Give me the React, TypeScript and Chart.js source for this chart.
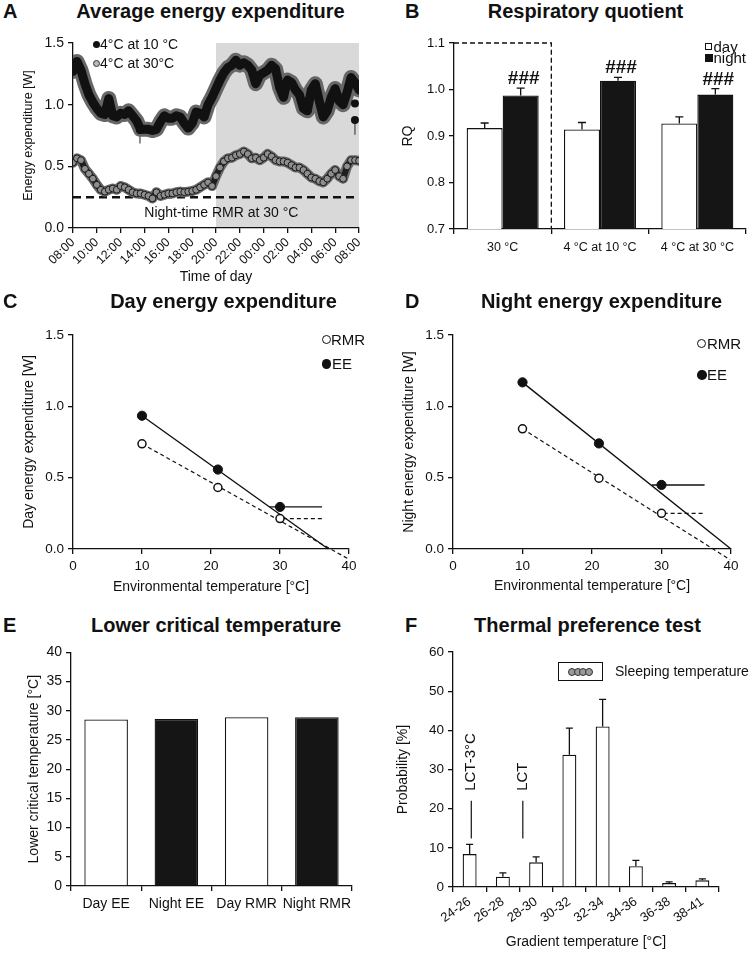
import React, { useEffect, useRef } from 'react';
import { Chart, registerables } from 'chart.js';

Chart.register(...registerables);

const FONT = '"Liberation Sans", Arial, Helvetica, sans-serif';
const INK = '#111111';

// ---------------- Panel A: average energy expenditure ----------------
const timeTickLabels = ['08:00', '10:00', '12:00', '14:00', '16:00', '18:00', '20:00', '22:00', '00:00', '02:00', '04:00', '06:00', '08:00'];
const sampleStepHours = 1 / 3; // 20-min samples, hours after 08:00
const ee4at10 = [
  1.27, 1.35, 1.28, 1.17, 1.08, 1.02, 0.97, 0.93, 0.92, 1.05,
  0.91, 0.90, 0.93, 0.92, 0.95, 0.91, 0.87, 0.80, 0.80, 0.80,
  0.79, 0.80, 0.86, 0.91, 0.89, 0.89, 0.91, 0.90, 0.85, 0.81,
  0.85, 0.94, 0.93, 0.90, 1.00, 1.06, 1.13, 1.20, 1.26, 1.30,
  1.32, 1.36, 1.32, 1.34, 1.32, 1.28, 1.17, 1.24, 1.26, 1.28,
  1.32, 1.29, 1.14, 1.06, 1.20, 1.18, 1.12, 1.08, 0.97, 0.95,
  1.12, 1.17, 1.03, 0.90, 0.95, 1.06, 1.13, 1.03, 1.00, 1.10,
  1.22, 1.18, 1.12,
];
const ee4at30 = [
  0.53, 0.565, 0.55, 0.48, 0.44, 0.40, 0.35, 0.31, 0.295, 0.31,
  0.32, 0.31, 0.34, 0.33, 0.31, 0.29, 0.28, 0.28, 0.27, 0.26,
  0.24, 0.29, 0.26, 0.27, 0.28, 0.28, 0.29, 0.295, 0.29, 0.295,
  0.30, 0.31, 0.33, 0.35, 0.37, 0.34, 0.42, 0.49, 0.54, 0.565,
  0.57, 0.59, 0.60, 0.62, 0.60, 0.565, 0.57, 0.55, 0.57, 0.60,
  0.58, 0.55, 0.54, 0.54, 0.53, 0.51, 0.49, 0.49, 0.47, 0.44,
  0.41, 0.40, 0.38, 0.37, 0.40, 0.44, 0.47, 0.42, 0.40, 0.50,
  0.55, 0.55, 0.545,
];
const outlierHours = [5.62, 23.66, 23.66];
const outlierValues = [0.795, 1.01, 0.876];
const outlierLowErr = [0.11, 0, 0.12];
const nightStartHour = 12;
const nightEndHour = 24;
const nightRmr30 = 0.25;
const rmrLabel = 'Night-time RMR at 30 °C';

// ---------------- Panel B: respiratory quotient ----------------
const rqGroups = ['30 °C', '4 °C at 10 °C', '4 °C at 30 °C'];
const rqDay = [0.917, 0.914, 0.927];
const rqDaySem = [0.011, 0.015, 0.014];
const rqNight = [0.987, 1.019, 0.989];
const rqNightSem = [0.016, 0.007, 0.013];
const rqNightSig = ['###', '###', '###'];

// ---------------- Panels C/D: energy expenditure vs temperature ----------------
const envTemps = [10, 21, 30];
const dayEE = [0.934, 0.557, 0.295];
const dayRMR = [0.737, 0.431, 0.213];
const dayEEFitT = [10, 37];
const dayEEFitW = [0.934, 0];
const dayRMRFitT = [10, 39.85];
const dayRMRFitW = [0.737, -0.068];
const dayEEPlateauT = [28.5, 36.1];
const dayRMRPlateauT = [29.4, 36.1];

const nightEE = [1.168, 0.74, 0.449];
const nightRMR = [0.842, 0.496, 0.25];
const nightEEFitT = [10, 40];
const nightEEFitW = [1.168, 0];
const nightRMRFitT = [10, 39.86];
const nightRMRFitW = [0.842, -0.075];
const nightEEPlateauT = [28.6, 36.2];
const nightRMRPlateauT = [29.3, 36.2];

// ---------------- Panel E: lower critical temperature ----------------
const lctCategories = ['Day EE', 'Night EE', 'Day RMR', 'Night RMR'];
const lctValues = [28.5, 28.6, 28.9, 28.9];
const lctColors = ['#ffffff', '#151515', '#ffffff', '#151515'];

// ---------------- Panel F: thermal preference ----------------
const gradientBins = ['24-26', '26-28', '28-30', '30-32', '32-34', '34-36', '36-38', '38-41'];
const sleepProb = [8.4, 2.6, 6.3, 33.8, 41.0, 5.3, 1.0, 1.7];
const sleepProbSem = [2.5, 1.0, 1.4, 6.8, 6.9, 1.5, 0.3, 0.4];
const lctMarkerLabels = ['LCT-3°C', 'LCT'];
const lctMarkerBinPos = [0.05, 1.6];

// ---------------- helpers ----------------
const font = (size: number, weight: string = 'normal') => ({ family: FONT, size, weight });
const GRID = { display: true, drawOnChartArea: false, drawTicks: true, tickLength: 5, tickColor: INK, tickWidth: 1.3, color: INK, lineWidth: 1.3 };
const BORDER = { display: true, color: INK, width: 1.3 };

function yAxis(o: any) {
  const ts = o.titleSize ?? 14;
  return {
    type: 'linear',
    position: 'left',
    min: o.min,
    max: o.max,
    afterFit: (s: any) => { s.width = o.width; },
    ticks: {
      stepSize: o.step,
      color: INK,
      font: font(o.tickSize ?? 13.5),
      padding: 4,
      callback: (v: any) => (o.decimals ? Number(v).toFixed(o.decimals) : String(Math.round(Number(v)))),
    },
    grid: GRID,
    border: BORDER,
    title: o.title
      ? { display: true, text: o.title, color: INK, font: font(ts), padding: { top: o.titleX - ts * 0.6, bottom: 0 } }
      : { display: false },
  };
}

function baseOptions(pad: { top: number; right: number }, scales: any) {
  return {
    responsive: false,
    animation: false,
    devicePixelRatio: 1,
    events: [],
    layout: { padding: { top: pad.top, right: pad.right, bottom: 0, left: 0 } },
    plugins: { legend: { display: false }, tooltip: { enabled: false } },
    scales,
  };
}

const errorBars = (capHalf: number) => ({
  id: 'errorBars',
  afterDatasetsDraw(chart: any) {
    const ctx = chart.ctx;
    const ys = chart.scales.y;
    chart.data.datasets.forEach((ds: any, di: number) => {
      if (!ds.errors) return;
      const meta = chart.getDatasetMeta(di);
      meta.data.forEach((el: any, i: number) => {
        const v = ds.data[i];
        const e = ds.errors[i];
        const y0 = ys.getPixelForValue(v);
        const y1 = ys.getPixelForValue(v + e);
        ctx.save();
        ctx.strokeStyle = INK;
        ctx.lineWidth = 1.3;
        ctx.beginPath();
        ctx.moveTo(el.x, y0);
        ctx.lineTo(el.x, y1);
        ctx.moveTo(el.x - capHalf, y1);
        ctx.lineTo(el.x + capHalf, y1);
        ctx.stroke();
        ctx.restore();
      });
    });
  },
});

// ---------------- chart builders ----------------
function makeA() {
  const black = ee4at10.map((y, i) => ({ x: i * sampleStepHours, y }));
  const gray = ee4at30.map((y, i) => ({ x: i * sampleStepHours, y }));
  const outliers = outlierHours.map((x, i) => ({ x, y: outlierValues[i] }));
  const rmr = [{ x: 0, y: nightRmr30 }, { x: 24, y: nightRmr30 }];
  const plugin = {
    id: 'panelA',
    beforeDraw(chart: any) {
      const { ctx, chartArea } = chart;
      const xs = chart.scales.x;
      const x0 = xs.getPixelForValue(nightStartHour);
      const x1 = xs.getPixelForValue(nightEndHour);
      ctx.save();
      ctx.fillStyle = '#d9d9d9';
      ctx.fillRect(x0, chartArea.top, x1 - x0, chartArea.bottom - chartArea.top);
      ctx.restore();
    },
    beforeDatasetsDraw(chart: any) {
      const ctx = chart.ctx;
      const xs = chart.scales.x;
      const ys = chart.scales.y;
      chart.data.datasets.forEach((ds: any) => {
        if (!ds.lowErr) return;
        ds.data.forEach((p: any, i: number) => {
          if (!ds.lowErr[i]) return;
          const x = xs.getPixelForValue(p.x);
          ctx.save();
          ctx.strokeStyle = '#444';
          ctx.lineWidth = 1.2;
          ctx.beginPath();
          ctx.moveTo(x, ys.getPixelForValue(p.y));
          ctx.lineTo(x, ys.getPixelForValue(p.y - ds.lowErr[i]));
          ctx.stroke();
          ctx.restore();
        });
      });
    },
    afterDatasetsDraw(chart: any) {
      const ctx = chart.ctx;
      const xs = chart.scales.x;
      const ys = chart.scales.y;
      ctx.save();
      ctx.font = `14px ${FONT}`;
      ctx.fillStyle = INK;
      ctx.textAlign = 'center';
      ctx.textBaseline = 'middle';
      ctx.fillText(rmrLabel, xs.getPixelForValue(12.45), ys.getPixelForValue(0.12));
      ctx.restore();
    },
  };
  const line = (data: any, color: string, width: number, order: number, extra: any = {}) => ({
    data, showLine: true, borderColor: color, borderWidth: width, pointRadius: 0, order,
    borderJoinStyle: 'round', borderCapStyle: 'round', ...extra,
  });
  return {
    type: 'scatter',
    data: {
      datasets: [
        { data: outliers, lowErr: outlierLowErr, showLine: false, pointRadius: 4, pointBackgroundColor: INK, pointBorderColor: INK, pointBorderWidth: 0, order: 0 },
        line(black, INK, 9, 1),
        line(black, '#676767', 15, 2),
        line(gray, '#1e1e1e', 6, 3, { pointRadius: 3.4, pointBackgroundColor: '#8e8e8e', pointBorderColor: '#1a1a1a', pointBorderWidth: 1 }),
        line(gray, '#6a6a6a', 10, 4),
        { data: rmr, showLine: true, borderColor: INK, borderWidth: 2.5, borderDash: [8, 5], pointRadius: 0, order: 5 },
      ],
    },
    options: baseOptions({ top: 15, right: 16 }, {
      x: {
        type: 'linear', position: 'bottom', min: 0, max: 24,
        afterFit: (s: any) => { s.height = 64; },
        ticks: {
          stepSize: 2, autoSkip: false, minRotation: 45, maxRotation: 45, color: INK, font: font(12.5), padding: 2,
          callback: (v: any) => timeTickLabels[Math.round(Number(v) / 2)],
        },
        grid: GRID, border: BORDER,
        title: { display: true, text: 'Time of day', color: INK, font: font(14), padding: { top: 0, bottom: 6.6 } },
      },
      y: yAxis({ min: 0, max: 1.5, step: 0.5, width: 73, tickSize: 14, decimals: 1, title: 'Energy expenditure [W]', titleSize: 12.5, titleX: 29 }),
    }),
    plugins: [plugin],
  };
}

function makeB() {
  const sigPlugin = {
    id: 'sig',
    afterDatasetsDraw(chart: any) {
      const ctx = chart.ctx;
      const ys = chart.scales.y;
      chart.data.datasets.forEach((ds: any, di: number) => {
        if (!ds.sig) return;
        const meta = chart.getDatasetMeta(di);
        meta.data.forEach((el: any, i: number) => {
          ctx.save();
          ctx.font = `bold 19px ${FONT}`;
          ctx.fillStyle = INK;
          ctx.textAlign = 'center';
          ctx.textBaseline = 'alphabetic';
          ctx.fillText(ds.sig[i], el.x + 3, ys.getPixelForValue(ds.data[i] + ds.errors[i]) - 4);
          ctx.restore();
        });
      });
    },
  };
  const boxPlugin = {
    id: 'controlBox',
    beforeDatasetsDraw(chart: any) {
      const { ctx, chartArea } = chart;
      const xs = chart.scales.x;
      const ys = chart.scales.y;
      const xb = (xs.getPixelForValue(0) + xs.getPixelForValue(1)) / 2;
      const yt = ys.getPixelForValue(ys.max);
      ctx.save();
      ctx.strokeStyle = INK;
      ctx.lineWidth = 1.3;
      ctx.setLineDash([5, 3]);
      ctx.beginPath();
      ctx.moveTo(chartArea.left, yt);
      ctx.lineTo(xb, yt);
      ctx.lineTo(xb, chartArea.bottom);
      ctx.stroke();
      ctx.restore();
    },
  };
  return {
    type: 'bar',
    data: {
      labels: rqGroups,
      datasets: [
        { label: 'day', data: rqDay, errors: rqDaySem, backgroundColor: '#ffffff', borderColor: INK, borderWidth: 1.3, barPercentage: 1, categoryPercentage: 0.74 },
        { label: 'night', data: rqNight, errors: rqNightSem, sig: rqNightSig, backgroundColor: '#151515', borderColor: INK, borderWidth: 1.3, barPercentage: 1, categoryPercentage: 0.74 },
      ],
    },
    options: baseOptions({ top: 15, right: 5 }, {
      x: {
        type: 'category', offset: true,
        afterFit: (s: any) => { s.height = 63; },
        ticks: { color: INK, font: font(12.5), padding: 6, autoSkip: false, maxRotation: 0 },
        grid: { ...GRID, offset: true },
        border: BORDER,
      },
      y: yAxis({ min: 0.7, max: 1.1, step: 0.1, width: 79, tickSize: 13, decimals: 1, title: 'RQ', titleSize: 14, titleX: 33 }),
    }),
    plugins: [boxPlugin, errorBars(4), sigPlugin],
  };
}

function makeTemp(p: any) {
  const pts = (ys: number[]) => envTemps.map((x, i) => ({ x, y: ys[i] }));
  const seg = (xs: number[], ys: number[]) => xs.map((x, i) => ({ x, y: ys[i] }));
  const ln = (data: any, dash: number[] | undefined, order: number) => ({
    data, showLine: true, borderColor: INK, borderWidth: dash ? 1.2 : 1.4, borderDash: dash || [], pointRadius: 0, clip: false, order,
  });
  return {
    type: 'scatter',
    data: {
      datasets: [
        { data: pts(p.ee), pointRadius: 4.6, pointBackgroundColor: INK, pointBorderColor: INK, pointBorderWidth: 1, order: 0 },
        { data: pts(p.rmr), pointRadius: 4, pointBackgroundColor: '#ffffff', pointBorderColor: INK, pointBorderWidth: 1.5, order: 1 },
        ln(seg(p.eeFitT, p.eeFitW), undefined, 2),
        ln(seg(p.rmrFitT, p.rmrFitW), [4, 3], 3),
        ln(seg(p.eePlatT, [p.ee[2], p.ee[2]]), undefined, 4),
        ln(seg(p.rmrPlatT, [p.rmr[2], p.rmr[2]]), [4, 3], 5),
      ],
    },
    options: baseOptions({ top: 17, right: p.padRight }, {
      x: {
        type: 'linear', position: 'bottom', min: 0, max: 40,
        afterFit: (s: any) => { s.height = 54; },
        ticks: { stepSize: 10, color: INK, font: font(13.5), padding: 4, maxRotation: 0 },
        grid: GRID, border: BORDER,
        title: { display: true, text: 'Environmental temperature [°C]', color: INK, font: font(14), padding: { top: 0, bottom: p.xTitlePad } },
      },
      y: yAxis({ min: 0, max: 1.5, step: 0.5, width: p.yWidth, tickSize: 13.5, decimals: 1, title: p.yTitle, titleSize: 14, titleX: p.titleX }),
    }),
  };
}

function makeC() {
  return makeTemp({
    ee: dayEE, rmr: dayRMR, eeFitT: dayEEFitT, eeFitW: dayEEFitW, rmrFitT: dayRMRFitT, rmrFitW: dayRMRFitW,
    eePlatT: dayEEPlateauT, rmrPlatT: dayRMRPlateauT, yTitle: 'Day energy expenditure [W]', yWidth: 73, titleX: 29, padRight: 26, xTitlePad: 7.6,
  });
}

function makeD() {
  return makeTemp({
    ee: nightEE, rmr: nightRMR, eeFitT: nightEEFitT, eeFitW: nightEEFitW, rmrFitT: nightRMRFitT, rmrFitW: nightRMRFitW,
    eePlatT: nightEEPlateauT, rmrPlatT: nightRMRPlateauT, yTitle: 'Night energy expenditure [W]', yWidth: 78, titleX: 34, padRight: 20, xTitlePad: 8.6,
  });
}

function makeE() {
  return {
    type: 'bar',
    data: {
      labels: lctCategories,
      datasets: [
        { data: lctValues, backgroundColor: lctColors, borderColor: INK, borderWidth: 1.3, barPercentage: 0.62, categoryPercentage: 1 },
      ],
    },
    options: baseOptions({ top: 10, right: 23 }, {
      x: {
        type: 'category', offset: true,
        afterFit: (s: any) => { s.height = 54; },
        ticks: { color: INK, font: font(14), padding: 5, autoSkip: false, maxRotation: 0 },
        grid: { ...GRID, offset: true },
        border: BORDER,
      },
      y: yAxis({ min: 0, max: 40, step: 5, width: 71, tickSize: 14, title: 'Lower critical temperature [°C]', titleSize: 14, titleX: 34 }),
    }),
  };
}

function makeF() {
  const lctPlugin = {
    id: 'lct',
    afterDatasetsDraw(chart: any) {
      const ctx = chart.ctx;
      const xs = chart.scales.x;
      const ys = chart.scales.y;
      lctMarkerLabels.forEach((lab, i) => {
        const x = xs.getPixelForValue(lctMarkerBinPos[i]);
        const yLo = ys.getPixelForValue(12.4);
        const yHi = ys.getPixelForValue(22);
        ctx.save();
        ctx.strokeStyle = INK;
        ctx.lineWidth = 1.2;
        ctx.beginPath();
        ctx.moveTo(x, yLo);
        ctx.lineTo(x, yHi);
        ctx.stroke();
        ctx.translate(x, yHi - 10);
        ctx.rotate(-Math.PI / 2);
        ctx.font = `15px ${FONT}`;
        ctx.fillStyle = INK;
        ctx.textAlign = 'left';
        ctx.textBaseline = 'middle';
        ctx.fillText(lab, 0, 0);
        ctx.restore();
      });
    },
  };
  return {
    type: 'bar',
    data: {
      labels: gradientBins,
      datasets: [
        { data: sleepProb, errors: sleepProbSem, backgroundColor: '#ffffff', borderColor: INK, borderWidth: 1.3, barPercentage: 0.42, categoryPercentage: 1 },
      ],
    },
    options: baseOptions({ top: 11, right: 32 }, {
      x: {
        type: 'category', offset: true,
        afterFit: (s: any) => { s.height = 69; },
        ticks: { color: INK, font: font(13), padding: 2, autoSkip: false, minRotation: 35, maxRotation: 35 },
        grid: { ...GRID, offset: true },
        border: BORDER,
        title: { display: true, text: 'Gradient temperature [°C]', color: INK, font: font(14), padding: { top: 0, bottom: 5.6 } },
      },
      y: yAxis({ min: 0, max: 60, step: 10, width: 78, tickSize: 13.5, title: 'Probability [%]', titleSize: 14, titleX: 28 }),
    }),
    plugins: [errorBars(3.5), lctPlugin],
  };
}

// ---------------- React components ----------------
type Box = { left: number; top: number; width: number; height: number };

function ChartCanvas({ box, make }: { box: Box; make: () => any }) {
  const ref = useRef<HTMLCanvasElement | null>(null);
  useEffect(() => {
    const chart = new Chart(ref.current as HTMLCanvasElement, make());
    return () => chart.destroy();
  }, []);
  return (
    <canvas
      ref={ref}
      width={box.width}
      height={box.height}
      style={{ position: 'absolute', left: box.left, top: box.top, width: box.width, height: box.height }}
    />
  );
}

const markerStyles: Record<string, any> = {
  dotBlack: { size: 7, background: INK, borderRadius: '50%' },
  dotGray: { size: 7, background: '#b8b8b8', border: '1px solid #333', borderRadius: '50%' },
  open: { size: 9, background: '#fff', border: `1.5px solid ${INK}`, borderRadius: '50%' },
  filled: { size: 9.5, background: INK, borderRadius: '50%' },
  sqOpen: { size: 7.5, background: '#fff', border: `1px solid ${INK}` },
  sqFilled: { size: 8, background: INK },
};

function LegendItem({ cx, cy, marker, text, textLeft, size }: any) {
  const m = markerStyles[marker];
  const { size: ms, ...rest } = m;
  return (
    <>
      <span style={{ position: 'absolute', left: cx - ms / 2, top: cy - ms / 2, width: ms, height: ms, boxSizing: 'border-box', ...rest }} />
      <span style={{ position: 'absolute', left: textLeft, top: cy - size * 0.59, lineHeight: `${size * 1.2}px`, fontFamily: FONT, fontSize: size, color: INK, whiteSpace: 'nowrap' }}>
        {text}
      </span>
    </>
  );
}

const panelTitles = [
  { letter: 'A', text: 'Average energy expenditure', cx: 210.5, baseline: 18.3, lx: 3 },
  { letter: 'B', text: 'Respiratory quotient', cx: 585.5, baseline: 18.3, lx: 405 },
  { letter: 'C', text: 'Day energy expenditure', cx: 223.5, baseline: 308.3, lx: 3 },
  { letter: 'D', text: 'Night energy expenditure', cx: 601.5, baseline: 308.3, lx: 405 },
  { letter: 'E', text: 'Lower critical temperature', cx: 216, baseline: 632, lx: 3 },
  { letter: 'F', text: 'Thermal preference test', cx: 587.5, baseline: 632, lx: 405 },
];

export default function App() {
  const titleStyle = (top: number): any => ({
    position: 'absolute', top, height: 20, lineHeight: '20px', fontFamily: FONT, fontSize: 20, fontWeight: 'bold', color: INK, whiteSpace: 'nowrap',
  });
  return (
    <div style={{ position: 'absolute', left: 0, top: 0, width: 751, height: 956, overflow: 'hidden', background: '#fff' }}>
      <ChartCanvas box={{ left: 0, top: 28, width: 375, height: 264 }} make={makeA} />
      <ChartCanvas box={{ left: 375, top: 28, width: 376, height: 264 }} make={makeB} />
      <ChartCanvas box={{ left: 0, top: 318, width: 375, height: 285 }} make={makeC} />
      <ChartCanvas box={{ left: 375, top: 318, width: 376, height: 285 }} make={makeD} />
      <ChartCanvas box={{ left: 0, top: 640, width: 375, height: 300 }} make={makeE} />
      <ChartCanvas box={{ left: 375, top: 640, width: 376, height: 316 }} make={makeF} />

      {panelTitles.map((t) => (
        <React.Fragment key={t.letter}>
          <div style={{ ...titleStyle(t.baseline - 16.95), left: t.lx }}>{t.letter}</div>
          <div style={{ ...titleStyle(t.baseline - 16.95), left: t.cx - 200, width: 400, textAlign: 'center' }}>{t.text}</div>
        </React.Fragment>
      ))}

      {/* Panel A legend */}
      <LegendItem cx={96} cy={44} marker="dotBlack" text="4°C at 10 °C" textLeft={100} size={14} />
      <LegendItem cx={96} cy={63} marker="dotGray" text="4°C at 30°C" textLeft={100} size={14} />

      {/* Panel B legend */}
      <LegendItem cx={708.5} cy={46.5} marker="sqOpen" text="day" textLeft={713.5} size={15} />
      <LegendItem cx={708.5} cy={58} marker="sqFilled" text="night" textLeft={713.5} size={15} />

      {/* Panel C legend */}
      <LegendItem cx={326} cy={339.5} marker="open" text="RMR" textLeft={331} size={15} />
      <LegendItem cx={326.5} cy={364} marker="filled" text="EE" textLeft={332} size={15} />

      {/* Panel D legend */}
      <LegendItem cx={701.5} cy={343.5} marker="open" text="RMR" textLeft={707} size={15} />
      <LegendItem cx={702} cy={375} marker="filled" text="EE" textLeft={707} size={15} />

      {/* Panel F legend */}
      <div style={{ position: 'absolute', left: 558, top: 662, width: 45, height: 19, boxSizing: 'border-box', border: `1.3px solid ${INK}`, background: '#fff' }} />
      {[572, 577.5, 583, 588.5].map((x) => (
        <span key={x} style={{ position: 'absolute', left: x - 4, top: 667.5, width: 8, height: 8, boxSizing: 'border-box', borderRadius: '50%', background: '#9a9a9a', border: '1px solid #333' }} />
      ))}
      <span style={{ position: 'absolute', left: 615, top: 671.5 - 14 * 0.59, lineHeight: '16.8px', fontFamily: FONT, fontSize: 14, color: INK, whiteSpace: 'nowrap' }}>
        Sleeping temperature
      </span>
    </div>
  );
}
